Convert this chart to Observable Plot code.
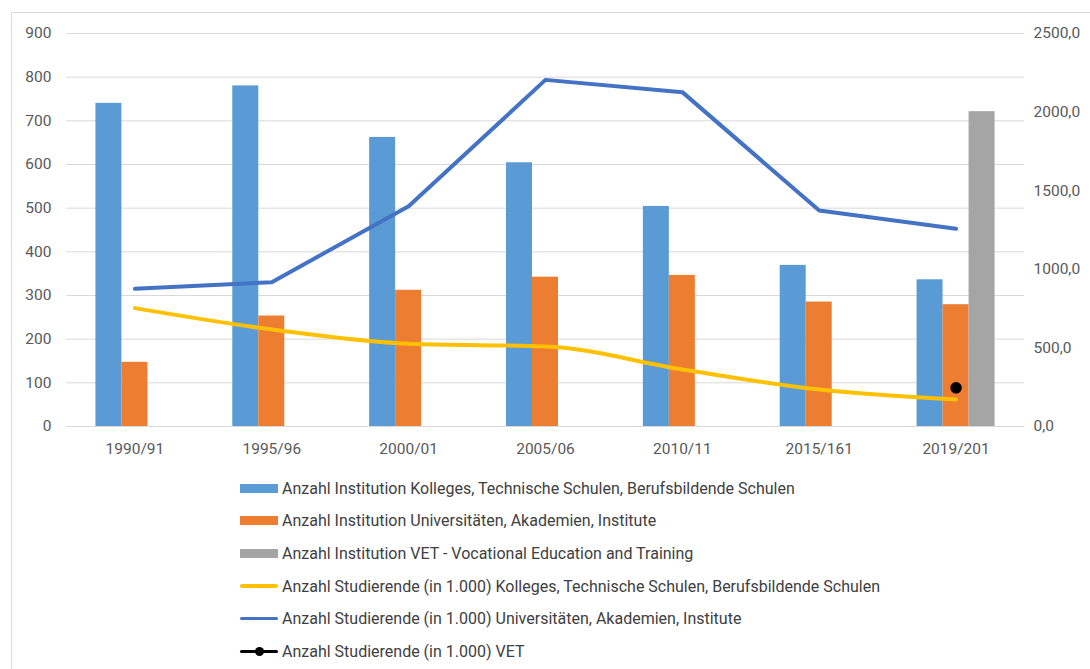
<!DOCTYPE html>
<html>
<head>
<meta charset="utf-8">
<script src="https://cdn.jsdelivr.net/npm/d3@7"></script>
<script src="https://cdn.jsdelivr.net/npm/@observablehq/plot@0.6"></script>
<style>
  html, body { margin: 0; padding: 0; background: #fff; overflow: hidden; }
  body { width: 1090px; height: 669px; position: relative; font-family: Roboto, "Liberation Sans", sans-serif; }
  #frame { position: absolute; left: 11px; top: 12px; width: 1200px; height: 800px; border: 1px solid #d9d9d9; box-sizing: border-box; pointer-events: none; }
  #chart { position: absolute; left: 0; top: 0; }
  #legend { position: absolute; left: 240px; top: 472px; color: #404040; font-size: 16px; }
  .item { display: flex; align-items: center; height: 32.6px; white-space: nowrap; }
  .sw { width: 38px; margin-right: 4px; position: relative; height: 10px; flex: none; }
  .sw.bar { height: 9px; }
  .sw.line::before { content: ""; position: absolute; left: 0; right: 0; top: 50%; height: 3.5px; margin-top: -1.75px; border-radius: 2px; background: var(--c); }
  .sw.dot::after { content: ""; position: absolute; left: 50%; top: 50%; width: 9px; height: 9px; margin: -4.5px 0 0 -4.5px; border-radius: 50%; background: #000; }
</style>
</head>
<body>
<div id="chart"></div>
<div id="legend"></div>
<div id="frame"></div>
<script>
// School years on the horizontal axis
const categories = ["1990/91", "1995/96", "2000/01", "2005/06", "2010/11", "2015/161", "2019/201"];

// Number of institutions (left axis)
const instKolleges = [740, 780, 662, 604, 504, 369, 336];
const instUni = [147, 253, 312, 342, 346, 285, 279];
const instVET = [null, null, null, null, null, null, 721];

// Number of students in thousands (right axis)
const studKolleges = [753, 617, 526, 509, 363, 235, 172];
const studUni = [876, 918, 1401, 2205, 2127, 1374, 1258];
const studVET = [null, null, null, null, null, null, 246];

// Axis tick values
const leftTicks = [0, 100, 200, 300, 400, 500, 600, 700, 800, 900];
const rightTicks = [0, 500, 1000, 1500, 2000, 2500];

const series = [
  {name: "Anzahl Institution Kolleges, Technische Schulen, Berufsbildende Schulen", color: "#5B9BD5", kind: "bar"},
  {name: "Anzahl Institution Universitäten, Akademien, Institute", color: "#ED7D31", kind: "bar"},
  {name: "Anzahl Institution VET - Vocational Education and Training", color: "#A5A5A5", kind: "bar"},
  {name: "Anzahl Studierende (in 1.000) Kolleges, Technische Schulen, Berufsbildende Schulen", color: "#FFC000", kind: "line"},
  {name: "Anzahl Studierende (in 1.000) Universitäten, Akademien, Institute", color: "#4472C4", kind: "line"},
  {name: "Anzahl Studierende (in 1.000) VET", color: "#000000", kind: "dot"}
];

// Right-axis values are mapped onto the left-axis scale
const k = 900 / 2500;

// Clustered bars: three slots per year, centred on the year index
const barW = 0.19;
const barRows = [];
[instKolleges, instUni, instVET].forEach((vals, j) => {
  vals.forEach((v, i) => {
    if (v == null) return;
    barRows.push({i, v, s: j, x1: i + (j - 1.5) * barW, x2: i + (j - 0.5) * barW});
  });
});

const lineRows = (vals) => vals.map((v, i) => ({i, v: v == null ? null : v * k})).filter(d => d.v != null);

const font = "Roboto, 'Liberation Sans', sans-serif";

const chart = Plot.plot({
  width: 1090,
  height: 470,
  marginLeft: 66,
  marginRight: 66,
  marginTop: 33,
  marginBottom: 44,
  style: {fontFamily: font, fontSize: "15.5px", color: "#595959", background: "transparent"},
  x: {domain: [-0.5, 6.5], axis: null},
  y: {domain: [0, 900], axis: null},
  marks: [
    Plot.gridY(leftTicks, {stroke: "#d9d9d9", strokeOpacity: 1, strokeWidth: 1}),
    Plot.rectY(barRows, {x1: "x1", x2: "x2", y1: 0, y2: "v", fill: d => series[d.s].color}),
    Plot.line(lineRows(studKolleges), {x: "i", y: "v", stroke: series[3].color, strokeWidth: 4, curve: "monotone-x", strokeLinecap: "round"}),
    Plot.line(lineRows(studUni), {x: "i", y: "v", stroke: series[4].color, strokeWidth: 4, strokeLinecap: "round", strokeLinejoin: "round"}),
    Plot.dot(lineRows(studVET), {x: "i", y: "v", r: 5, fill: "#000", stroke: "#000"}),
    Plot.axisY(leftTicks, {anchor: "left", tickSize: 0, tickPadding: 15, fontSize: 15.5, label: null}),
    Plot.axisY(rightTicks.map(v => v * k), {anchor: "right", tickSize: 0, tickPadding: 9, fontSize: 15.5, label: null,
      tickFormat: d => (d / k).toFixed(1).replace(".", ",")}),
    Plot.axisX(d3.range(categories.length), {anchor: "bottom", tickSize: 0, tickPadding: 16, fontSize: 15.5, label: null,
      tickFormat: i => categories[i]})
  ]
});
document.getElementById("chart").appendChild(chart);

// Legend below the plot
const legend = document.getElementById("legend");
series.forEach(s => {
  const row = document.createElement("div");
  row.className = "item";
  const sw = document.createElement("span");
  sw.className = "sw " + (s.kind === "bar" ? "bar" : s.kind === "line" ? "line" : "line dot");
  sw.style.setProperty("--c", s.color);
  if (s.kind === "bar") sw.style.background = s.color;
  const label = document.createElement("span");
  label.textContent = s.name;
  row.appendChild(sw);
  row.appendChild(label);
  legend.appendChild(row);
});
</script>
</body>
</html>
